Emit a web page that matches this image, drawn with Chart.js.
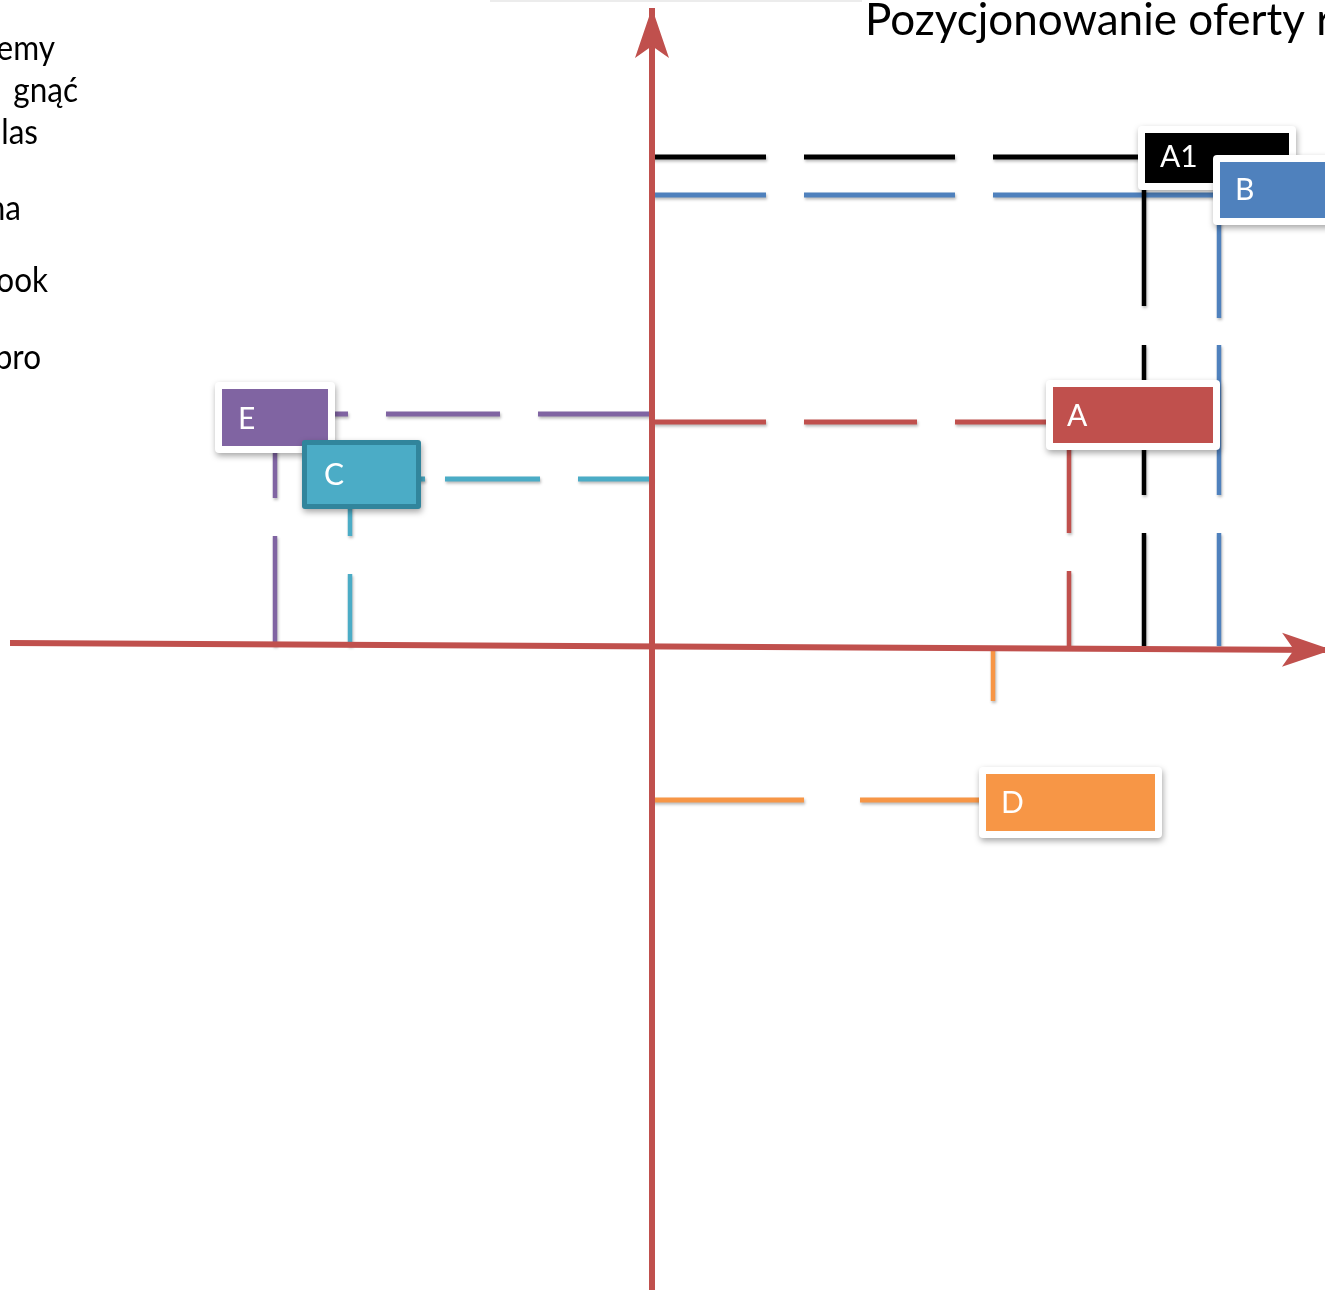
<!DOCTYPE html>
<html>
<head>
<meta charset="utf-8">
<title>Pozycjonowanie oferty</title>
<script src="https://cdn.jsdelivr.net/npm/chart.js@4.4.0/dist/chart.umd.min.js"></script>
<style>
  html, body { margin: 0; padding: 0; background: #fff; overflow: hidden; }
  canvas { display: block; }
</style>
</head>
<body>
<canvas id="posChart" width="1325" height="1297"></canvas>
<script>
// products and their position on the map (x: right/left, y: up/down)
const products = ['A1', 'B', 'A', 'E', 'C', 'D'];
const posX = [4.92, 5.67, 4.17, -3.77, -3.02, 3.41];
const posY = [4.89, 4.51, 2.24, 2.32, 1.67, -1.54];

// axis extents (arrow tips at the last point)
const xAxisX = [-6.42, 6.80];
const xAxisY = [0.03, -0.04];
const yAxisX = [0, 0];
const yAxisY = [-6.44, 6.38];

// side text, cut by the slide crop
const sideText = ['emy', 'gnąć', 'las', 'na', 'ook', 'pro'];
const titleText = 'Pozycjonowanie oferty r';

const axisColor = '#c0504d';

// look of each product: guide colour, dashes (px, from the axis), label box
const styles = {
  A1: { color: '#000000', hDash: [114, 38, 151, 38, 400, 0], vDash: [113, 38, 150, 39, 300, 0],
        box: { fill: '#000000', dx: 1, dy: -24, w: 144, h: 50, tx: 16, ty: 10 } },
  B:  { color: '#4f81bd', hDash: [114, 38, 151, 38, 400, 0], vDash: [113, 38, 150, 27, 300, 0],
        box: { fill: '#4f81bd', dx: 1, dy: -33, w: 150, h: 56, tx: 16, ty: 5 } },
  A:  { color: '#c0504d', hDash: [114, 38, 113, 38, 200, 0], vDash: [75, 38, 300, 0],
        box: { fill: '#c0504d', dx: -16, dy: -35, w: 160, h: 56, tx: -2, ty: 4 } },
  E:  { color: '#8064a2', hDash: [114, 38], vDash: [110, 38, 300, 0],
        box: { fill: '#8064a2', dx: -53, dy: -25, w: 106, h: 57, tx: -37, ty: 15 } },
  C:  { color: '#4bacc6', hDash: [74, 38, 95, 20, 20, 0], vDash: [72, 38, 300, 0],
        box: { fill: '#4bacc6', border: '#31859c', dx: -48, dy: -39, w: 119, h: 69, tx: -26, ty: 6 } },
  D:  { color: '#f79646', hDash: [152, 56, 300, 0], vDash: [55, 200],
        box: { fill: '#f79646', dx: -7, dy: -26, w: 169, h: 57, tx: 8, ty: 13 } }
};
const boxOrder = ['A', 'D', 'E', 'C', 'A1', 'B'];

const datasets = [];
datasets.push({
  label: 'osX', data: xAxisX.map((x, i) => ({ x: x, y: xAxisY[i] })),
  borderColor: axisColor, borderWidth: 6
});
datasets.push({
  label: 'osY', data: yAxisX.map((x, i) => ({ x: x, y: yAxisY[i] })),
  borderColor: axisColor, borderWidth: 6
});
products.forEach(function (p, i) {
  const s = styles[p];
  datasets.push({
    label: p + ' poziom', data: [{ x: 0, y: posY[i] }, { x: posX[i], y: posY[i] }],
    borderColor: s.color, borderWidth: 5, borderDash: s.hDash, shadow: true
  });
  datasets.push({
    label: p + ' pion', data: [{ x: posX[i], y: 0 }, { x: posX[i], y: posY[i] }],
    borderColor: s.color, borderWidth: 4.5, borderDash: s.vDash, shadow: true
  });
});
datasets.forEach(function (d) {
  d.showLine = true;
  d.pointRadius = 0;
  d.borderCapStyle = 'butt';
  d.tension = 0;
  d.clip = false;
});

function roundRect(ctx, x, y, w, h, r) {
  ctx.beginPath();
  ctx.moveTo(x + r, y);
  ctx.lineTo(x + w - r, y);
  ctx.quadraticCurveTo(x + w, y, x + w, y + r);
  ctx.lineTo(x + w, y + h - r);
  ctx.quadraticCurveTo(x + w, y + h, x + w - r, y + h);
  ctx.lineTo(x + r, y + h);
  ctx.quadraticCurveTo(x, y + h, x, y + h - r);
  ctx.lineTo(x, y + r);
  ctx.quadraticCurveTo(x, y, x + r, y);
  ctx.closePath();
}

function arrowHead(ctx, tx, ty, fx, fy) {
  const len = Math.hypot(tx - fx, ty - fy);
  const dx = (tx - fx) / len, dy = (ty - fy) / len;
  const nx = -dy, ny = dx;
  ctx.beginPath();
  ctx.moveTo(tx, ty);
  ctx.lineTo(tx - 50 * dx + 17 * nx, ty - 50 * dy + 17 * ny);
  ctx.lineTo(tx - 38 * dx, ty - 38 * dy);
  ctx.lineTo(tx - 50 * dx - 17 * nx, ty - 50 * dy - 17 * ny);
  ctx.closePath();
  ctx.fillStyle = axisColor;
  ctx.fill();
}

const shadowPlugin = {
  id: 'lineShadow',
  beforeDatasetDraw(chart, args) {
    const ds = chart.data.datasets[args.index];
    if (!ds.shadow) return;
    const ctx = chart.ctx;
    ctx.save();
    ctx.shadowColor = 'rgba(0,0,0,0.28)';
    ctx.shadowBlur = 3;
    ctx.shadowOffsetX = 1;
    ctx.shadowOffsetY = 2;
  },
  afterDatasetDraw(chart, args) {
    const ds = chart.data.datasets[args.index];
    if (!ds.shadow) return;
    chart.ctx.restore();
  }
};

const diagramPlugin = {
  id: 'diagram',
  afterDatasetsDraw(chart) {
    const ctx = chart.ctx;
    const sx = chart.scales.x, sy = chart.scales.y;

    // arrow heads
    arrowHead(ctx, sx.getPixelForValue(xAxisX[1]), sy.getPixelForValue(xAxisY[1]),
      sx.getPixelForValue(xAxisX[0]), sy.getPixelForValue(xAxisY[0]));
    arrowHead(ctx, sx.getPixelForValue(yAxisX[1]), sy.getPixelForValue(yAxisY[1]),
      sx.getPixelForValue(yAxisX[0]), sy.getPixelForValue(yAxisY[0]));

    // label boxes
    boxOrder.forEach(function (p) {
      const i = products.indexOf(p);
      const b = styles[p].box;
      const px = sx.getPixelForValue(posX[i]);
      const py = sy.getPixelForValue(posY[i]);
      const x = px + b.dx, y = py + b.dy;
      ctx.save();
      ctx.shadowColor = 'rgba(0,0,0,0.35)';
      ctx.shadowBlur = 6;
      ctx.shadowOffsetX = 1;
      ctx.shadowOffsetY = 3;
      if (b.border) {
        roundRect(ctx, x, y, b.w, b.h, 3);
        ctx.fillStyle = b.border;
        ctx.fill();
        ctx.restore();
        ctx.save();
        ctx.fillStyle = b.fill;
        ctx.fillRect(x + 5, y + 5, b.w - 10, b.h - 10);
      } else {
        roundRect(ctx, x - 7, y - 7, b.w + 14, b.h + 14, 4);
        ctx.fillStyle = '#ffffff';
        ctx.fill();
        ctx.restore();
        ctx.save();
        ctx.fillStyle = b.fill;
        ctx.fillRect(x, y, b.w, b.h);
      }
      ctx.fillStyle = '#ffffff';
      ctx.font = '30px Lato';
      ctx.textAlign = 'left';
      ctx.textBaseline = 'alphabetic';
      ctx.fillText(p, px + b.tx, py + b.ty);
      ctx.restore();
    });
  },
  afterDraw(chart) {
    const ctx = chart.ctx;
    ctx.save();
    // faint edge of a shape above the crop
    ctx.fillStyle = '#ececec';
    ctx.fillRect(490, 0, 372, 2);

    // title, cut by the right edge
    ctx.fillStyle = '#000000';
    ctx.textAlign = 'left';
    ctx.textBaseline = 'alphabetic';
    ctx.font = '40px Lato';
    const w = ctx.measureText('Pozycjonowanie oferty').width;
    const size = 40 * 440 / w;
    ctx.font = size.toFixed(1) + 'px Lato';
    ctx.fillText(titleText, 865, 35);

    // side text, cut by the left edge (narrowed a little, like the slide font)
    const ends = [55, 78, 38, 21, 48, 41];
    const bases = [60, 102, 144, 220, 292, 369];
    const squeeze = 0.9;
    ctx.font = '35px Lato';
    ctx.textAlign = 'right';
    ctx.scale(squeeze, 1);
    sideText.forEach(function (t, i) {
      ctx.fillText(t, ends[i] / squeeze, bases[i]);
    });
    ctx.restore();
  }
};

new Chart(document.getElementById('posChart'), {
  type: 'scatter',
  data: { datasets: datasets },
  options: {
    responsive: false,
    animation: false,
    devicePixelRatio: 1,
    events: [],
    layout: { padding: 0 },
    plugins: { legend: { display: false }, tooltip: { enabled: false }, title: { display: false } },
    scales: {
      x: { type: 'linear', min: -6.52, max: 6.73, display: false },
      y: { type: 'linear', min: -6.51, max: 6.46, display: false }
    }
  },
  plugins: [shadowPlugin, diagramPlugin]
});
</script>
</body>
</html>
